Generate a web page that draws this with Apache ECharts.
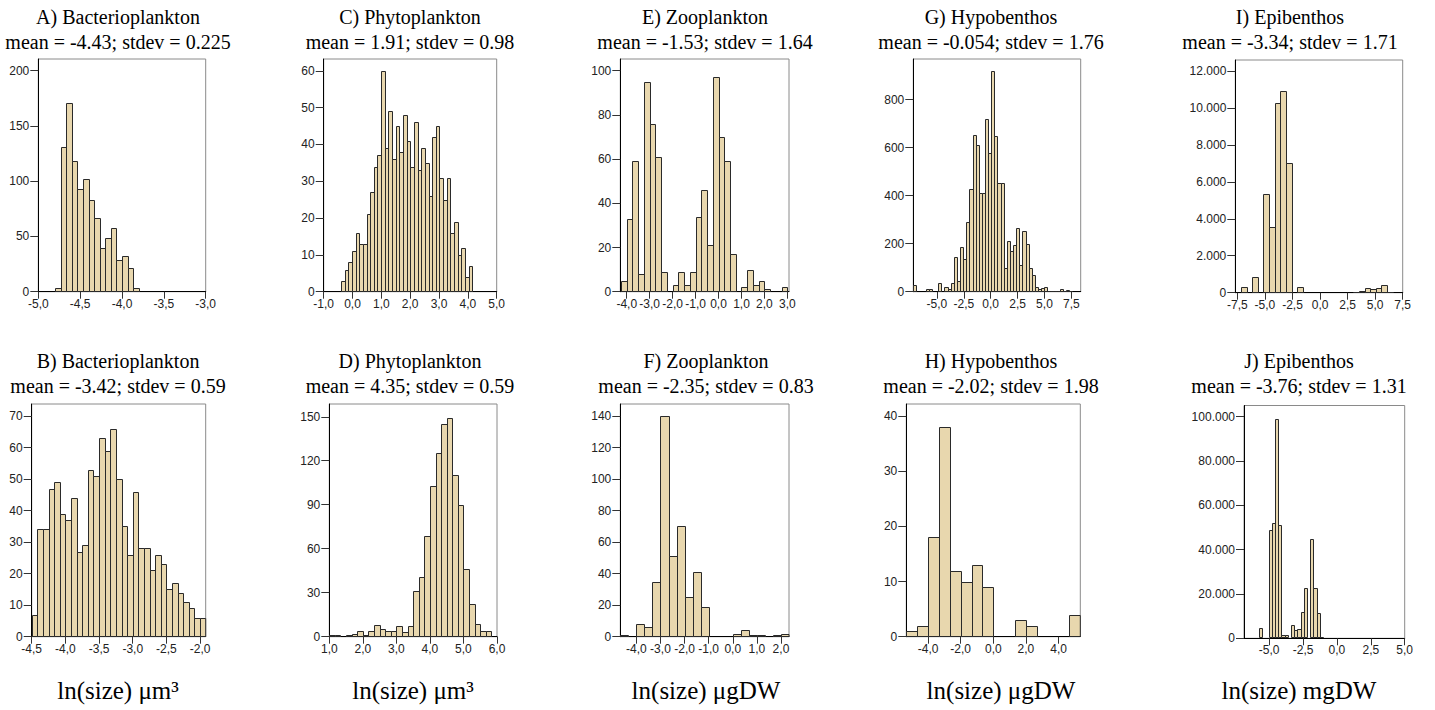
<!DOCTYPE html>
<html><head><meta charset="utf-8">
<script src="https://cdn.jsdelivr.net/npm/echarts@6/dist/echarts.min.js"></script>
<style>html,body{margin:0;padding:0;background:#fff}#c{width:1435px;height:710px}</style>
</head><body><div id="c"></div>
<script>
// ---------- DATA (bin start, bin width, counts, ticks) ----------
const aStart = -4.8, aWidth = 1/15;
const aCounts = [3,131,171,118,93,102,83,67,40,49,58,29,32,21,3];
const aXTicks = [-5,-4.5,-4,-3.5,-3];
const aYTicks = [0,50,100,150,200];

const bStart = -4.5, bWidth = 1/12;
const bCounts = [7,34,34,47,49,39,37,44,27,29,53,51,63,59,66,50,35,26,46,28,28,21,26,23,15,17,14,11,9,6,6];
const bXTicks = [-4.5,-4,-3.5,-3,-2.5,-2];
const bYTicks = [0,10,20,30,40,50,60,70];

const cStart = -0.4, cWidth = 0.1265;
const cCounts = [3,6,8,11,16,13,13,21,27,34,37,60,39,49,36,45,38,48,41,34,46,33,39,35,26,42,45,31,25,31,16,19,10,12,4,7];
const cXTicks = [-1,0,1,2,3,4,5];
const cYTicks = [0,10,20,30,40,50,60];

const dStart = 1, dWidth = 1/6;
const dCounts = [1,1,0,1,2,4,1,4,8,5,4,4,7,3,7,31,41,69,103,125,145,149,110,90,46,22,9,4,4];
const dXTicks = [1,2,3,4,5,6];
const dYTicks = [0,30,60,90,120,150];

const eStart = -4.25, eWidth = 0.25;
const eCounts = [5,33,59,8,95,76,61,9,0,3,9,3,9,34,46,21,97,70,59,17,0,2,10,3,5,1,0,0,2];
const eXTicks = [-4,-3,-2,-1,0,1,2,3];
const eYTicks = [0,20,40,60,80,100];

const fStart = -14/3, fWidth = 1/3;
const fCounts = [1,0,8,6,35,140,51,70,25,41,19,0,0,0,2,4,1,1,0,1,2];
const fXTicks = [-4,-3,-2,-1,0,1,2];
const fYTicks = [0,20,40,60,80,100,120,140];

const gStart = -7.2, gWidth = 0.29;
const gCounts = [30,0,0,0,12,10,0,0,35,0,20,12,35,145,45,185,135,290,430,655,610,410,410,720,580,920,650,455,455,100,210,170,195,265,110,255,200,100,70,20,10,15,20,5,5,5,5,12,3,8,2];
const gXTicks = [-5,-2.5,0,2.5,5,7.5];
const gYTicks = [0,200,400,600,800];

const hStart = -16/3, hWidth = 2/3;
const hCounts = [1,2,18,38,12,10,13,9,0,0,3,2,0,0,0,4];
const hXTicks = [-4,-2,0,2,4];
const hYTicks = [0,10,20,30,40];

const iStart = -7.69, iWidth = 0.51;
const iCounts = [0,290,0,870,0,5330,3540,10290,10900,7000,0,290,0,0,0,0,0,0,0,0,0,50,90,235,180,235,400,50];
const iXTicks = [-7.5,-5,-2.5,0,2.5,5,7.5];
const iYTicks = [0,2000,4000,6000,8000,10000,12000];

const jStart = -6.942, jWidth = 0.2365;
const jCounts = [300,0,0,0,0,4500,0,0,49000,52000,99000,51000,1700,1700,0,5800,3800,4200,11700,22700,0,45000,22700,11500,400,0,0,0,0,300,300,0,200];
const jXTicks = [-5,-2.5,0,2.5,5];
const jYTicks = [0,20000,40000,60000,80000,100000];

const titles = ['A) Bacterioplankton','B) Bacterioplankton','C) Phytoplankton','D) Phytoplankton','E) Zooplankton','F) Zooplankton','G) Hypobenthos','H) Hypobenthos','I) Epibenthos','J) Epibenthos'];
const subtitles = ['mean = -4.43; stdev = 0.225','mean = -3.42; stdev = 0.59','mean = 1.91; stdev = 0.98','mean = 4.35; stdev = 0.59','mean = -1.53; stdev = 1.64','mean = -2.35; stdev = 0.83','mean = -0.054; stdev = 1.76','mean = -2.02; stdev = 1.98','mean = -3.34; stdev = 1.71','mean = -3.76; stdev = 1.31'];
const xTitles = ['ln(size) μm³','ln(size) μm³','ln(size) μgDW','ln(size) μgDW','ln(size) mgDW'];

// ---------- LAYOUT ----------
const panels = [
 {s:aStart,w:aWidth,c:aCounts,xt:aXTicks,yt:aYTicks,xmin:-5,xmax:-3,ymax:210.6,box:[38.3,59,205.7,291.7],tx:118,thou:false},
 {s:bStart,w:bWidth,c:bCounts,xt:bXTicks,yt:bYTicks,xmin:-4.5,xmax:-4.5+31/12,ymax:73.8,box:[31.7,404,205.7,636.7],tx:118,thou:false},
 {s:cStart,w:cWidth,c:cCounts,xt:cXTicks,yt:cYTicks,xmin:-1,xmax:5,ymax:63.2,box:[323.7,59,496.7,291.7],tx:410,thou:false},
 {s:dStart,w:dWidth,c:dCounts,xt:dXTicks,yt:dYTicks,xmin:1,xmax:6,ymax:158.7,box:[329.3,404,497,636.7],tx:410,thou:false},
 {s:eStart,w:eWidth,c:eCounts,xt:eXTicks,yt:eYTicks,xmin:-4.28,xmax:3.07,ymax:105.3,box:[620.3,59,789,291.7],tx:705,thou:false},
 {s:fStart,w:fWidth,c:fCounts,xt:fXTicks,yt:fYTicks,xmin:-14/3,xmax:7/3,ymax:147.6,box:[620.3,404,789,636.7],tx:706,thou:false},
 {s:gStart,w:gWidth,c:gCounts,xt:gXTicks,yt:gYTicks,xmin:-7.2,xmax:8.37,ymax:969.6,box:[913.3,59,1080.7,291.7],tx:991,thou:false},
 {s:hStart,w:hWidth,c:hCounts,xt:hXTicks,yt:hYTicks,xmin:-16/3,xmax:16/3,ymax:42.2,box:[906.3,404,1080.3,636.7],tx:991,thou:false},
 {s:iStart,w:iWidth,c:iCounts,xt:iXTicks,yt:iYTicks,xmin:-7.69,xmax:7.5,ymax:12595,box:[1235.3,60,1402.7,292.7],tx:1290,thou:true},
 {s:jStart,w:jWidth,c:jCounts,xt:jXTicks,yt:jYTicks,xmin:-6.86,xmax:5,ymax:105050,box:[1244,405.5,1404.7,638.3],tx:1299,thou:true}
];
const xTitleX = [118,413,706,1001,1299];

const FILL = '#E8D7AE', EDGE = '#2a2a2a';
const labelFont = 'Liberation Sans';
const serif = '"Liberation Serif", "Times New Roman", serif';
const fmtX = v => (Math.round(v*10)/10).toFixed(1).replace('.', ',');
const fmtThou = v => String(Math.round(v)).replace(/\B(?=(\d{3})+(?!\d))/g, '.');

function renderItem(params, api) {
  const x0 = api.value(0), x1 = api.value(1), n = api.value(2);
  const p0 = api.coord([x0, 0]);
  const p1 = api.coord([x1, n]);
  const cs = params.coordSys;
  let L = Math.round(p0[0]) + 0.5, R = Math.round(p1[0]) + 0.5;
  let T = Math.round(p1[1]) + 0.5, B = Math.round(p0[1]) - 0.5;
  const clipped = echarts.graphic.clipRectByRect(
    {x: L, y: T, width: R - L, height: B - T},
    {x: cs.x, y: cs.y, width: cs.width, height: cs.height});
  if (!clipped) return null;
  return {type: 'rect', shape: clipped, style: {fill: FILL, stroke: EDGE, lineWidth: 1}};
}

function textEl(x, y, text, size) {
  return {type: 'text', x: x, y: y, silent: true,
    style: {text: text, fontSize: size, fontFamily: serif, fill: '#000', align: 'center', verticalAlign: 'middle'}};
}

const grid = [], xAxis = [], yAxis = [], series = [], graphic = [];
panels.forEach((p, i) => {
  const [l, t, r, b] = p.box;
  grid.push({left: l, top: t, width: r - l, height: b - t, show: true, borderColor: '#8a8a8a', borderWidth: 1, backgroundColor: 'transparent', containLabel: false});
  xAxis.push({gridIndex: i, type: 'value', min: p.xmin, max: p.xmax,
    axisLine: {show: true, onZero: false, lineStyle: {color: '#000', width: 1}},
    axisTick: {show: true, length: 7, customValues: p.xt, lineStyle: {color: '#333'}},
    axisLabel: {customValues: p.xt, formatter: fmtX, margin: 6, fontSize: 12, color: '#222', fontFamily: labelFont, hideOverlap: false},
    splitLine: {show: false}});
  yAxis.push({gridIndex: i, type: 'value', min: 0, max: p.ymax,
    axisLine: {show: true, onZero: false, lineStyle: {color: '#000', width: 1}},
    axisTick: {show: true, length: 8, customValues: p.yt, lineStyle: {color: '#333'}},
    axisLabel: {customValues: p.yt, formatter: p.thou ? fmtThou : (v => String(Math.round(v))), margin: 9, fontSize: 12, color: '#222', fontFamily: labelFont, hideOverlap: false},
    splitLine: {show: false}});
  const data = [];
  p.c.forEach((n, k) => { if (n > 0) data.push([p.s + k * p.w, p.s + (k + 1) * p.w, n]); });
  series.push({type: 'custom', xAxisIndex: i, yAxisIndex: i, renderItem: renderItem, data: data, silent: true, animation: false});
  const y1 = (i % 2) === 0 ? 17 : 361;
  graphic.push(textEl(p.tx, y1, titles[i], 20));
  graphic.push(textEl(p.tx, y1 + 25, subtitles[i], 20));
});
xTitles.forEach((t, k) => graphic.push(textEl(xTitleX[k], 690, t, 25)));

const chart = echarts.init(document.getElementById('c'), null, {renderer: 'svg', width: 1435, height: 710});
chart.setOption({animation: false, backgroundColor: '#fff', grid, xAxis, yAxis, series, graphic});
</script></body></html>
